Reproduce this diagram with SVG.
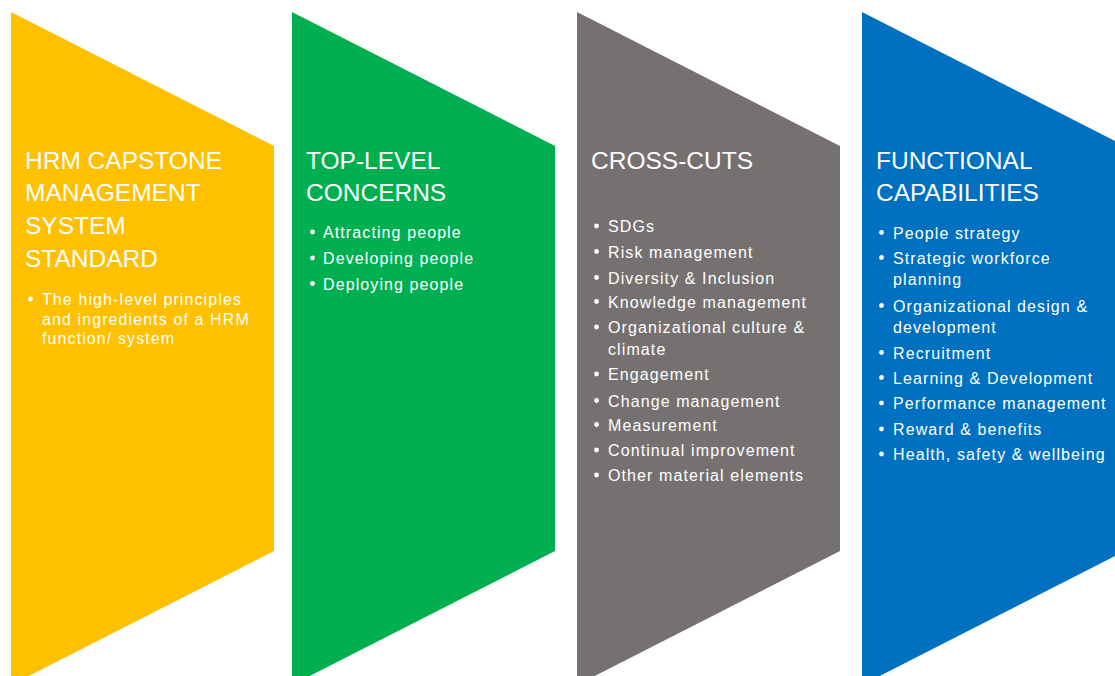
<svg xmlns="http://www.w3.org/2000/svg" width="1115" height="676" viewBox="0 0 1115 676">
<style>
.t{font-family:"Liberation Sans",Arial,sans-serif;font-size:24.5px;fill:#fff}
.b{font-family:"Liberation Sans",Arial,sans-serif;font-size:16px;fill:#fff;letter-spacing:1.1px}
.d{fill:#fff}
</style>
<defs>
<path id="chev" d="M0 0 L263 134 L263 539 L0 673 Z"/>
</defs>
<rect width="1115" height="676" fill="#fff"/>
<g id="node-hrm">
<use href="#chev" x="11" y="12" fill="#FFC000"/>
<text class="t" x="25" y="169">HRM CAPSTONE</text>
<text class="t" x="25" y="201">MANAGEMENT</text>
<text class="t" x="25" y="234">SYSTEM</text>
<text class="t" x="25" y="267">STANDARD</text>
<circle class="d" cx="30.5" cy="299" r="2.4"/>
<text class="b" x="42" y="305">The high-level principles</text>
<text class="b" x="42" y="325">and ingredients of a HRM</text>
<text class="b" x="42" y="344">function/ system</text>
</g>
<g id="node-top">
<use href="#chev" x="292" y="12" fill="#00B050"/>
<text class="t" x="306" y="169">TOP-LEVEL</text>
<text class="t" x="306" y="201">CONCERNS</text>
<circle class="d" cx="312.5" cy="232" r="2.4"/>
<text class="b" x="323" y="238">Attracting people</text>
<circle class="d" cx="312.5" cy="258" r="2.4"/>
<text class="b" x="323" y="264">Developing people</text>
<circle class="d" cx="312.5" cy="283.5" r="2.4"/>
<text class="b" x="323" y="289.5">Deploying people</text>
</g>
<g id="node-cross">
<use href="#chev" x="577" y="12" fill="#767171"/>
<text class="t" x="591" y="169">CROSS-CUTS</text>
<g>
<circle class="d" cx="596.5" cy="226" r="2.4"/><text class="b" x="608" y="232">SDGs</text>
<circle class="d" cx="596.5" cy="251.5" r="2.4"/><text class="b" x="608" y="257.5">Risk management</text>
<circle class="d" cx="596.5" cy="277.5" r="2.4"/><text class="b" x="608" y="283.5">Diversity &amp; Inclusion</text>
<circle class="d" cx="596.5" cy="301.5" r="2.4"/><text class="b" x="608" y="307.5">Knowledge management</text>
<circle class="d" cx="596.5" cy="327" r="2.4"/><text class="b" x="608" y="333">Organizational culture &amp;</text>
<text class="b" x="608" y="355">climate</text>
<circle class="d" cx="596.5" cy="374" r="2.4"/><text class="b" x="608" y="380">Engagement</text>
<circle class="d" cx="596.5" cy="400.5" r="2.4"/><text class="b" x="608" y="406.5">Change management</text>
<circle class="d" cx="596.5" cy="424.5" r="2.4"/><text class="b" x="608" y="430.5">Measurement</text>
<circle class="d" cx="596.5" cy="450" r="2.4"/><text class="b" x="608" y="456">Continual improvement</text>
<circle class="d" cx="596.5" cy="475" r="2.4"/><text class="b" x="608" y="481">Other material elements</text>
</g>
</g>
<g id="node-func">
<use href="#chev" x="862" y="12" fill="#0070C0"/>
<text class="t" x="876" y="169">FUNCTIONAL</text>
<text class="t" x="876" y="201">CAPABILITIES</text>
<circle class="d" cx="881.5" cy="232.5" r="2.4"/><text class="b" x="893" y="238.5">People strategy</text>
<circle class="d" cx="881.5" cy="257.5" r="2.4"/><text class="b" x="893" y="263.5">Strategic workforce</text>
<text class="b" x="893" y="285">planning</text>
<circle class="d" cx="881.5" cy="305.5" r="2.4"/><text class="b" x="893" y="311.5">Organizational design &amp;</text>
<text class="b" x="893" y="333">development</text>
<circle class="d" cx="881.5" cy="352.5" r="2.4"/><text class="b" x="893" y="358.5">Recruitment</text>
<circle class="d" cx="881.5" cy="377.5" r="2.4"/><text class="b" x="893" y="383.5">Learning &amp; Development</text>
<circle class="d" cx="881.5" cy="403" r="2.4"/><text class="b" x="893" y="409">Performance management</text>
<circle class="d" cx="881.5" cy="429" r="2.4"/><text class="b" x="893" y="435">Reward &amp; benefits</text>
<circle class="d" cx="881.5" cy="454" r="2.4"/><text class="b" x="893" y="460">Health, safety &amp; wellbeing</text>
</g>
<g id="connectors"></g>
</svg>
